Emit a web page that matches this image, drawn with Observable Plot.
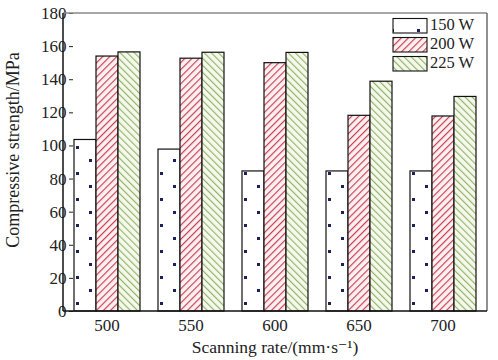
<!DOCTYPE html>
<html><head><meta charset="utf-8">
<script src="https://cdn.jsdelivr.net/npm/d3@7"></script>
<script src="https://cdn.jsdelivr.net/npm/@observablehq/plot@0.6"></script>
<style>
body{margin:0;background:#fff;}
#wrap{position:relative;width:498px;height:360px;}
</style></head><body><div id="wrap"></div>
<script>
const rates = [500, 550, 600, 650, 700];
const powers = ["150 W", "200 W", "225 W"];
const s150 = [103.6, 97.8, 84.6, 84.6, 84.6];
const s200 = [154.0, 152.7, 150.0, 118.2, 117.8];
const s225 = [156.5, 156.3, 156.2, 138.8, 129.6];
const yTicks = [0, 20, 40, 60, 80, 100, 120, 140, 160, 180];
const patternUrls = ["url(#p150)", "url(#p200)", "url(#p225)"];

const data = rates.flatMap((r, i) => [
  {rate: r, power: powers[0], value: s150[i]},
  {rate: r, power: powers[1], value: s200[i]},
  {rate: r, power: powers[2], value: s225[i]}
]);

const FONT = "Liberation Serif, DejaVu Serif, serif";
const W = 498, H = 360, mL = 63, mR = 11, mT = 13, mB = 49;

const chart = Plot.plot({
  width: W, height: H,
  marginLeft: mL, marginRight: mR, marginTop: mT, marginBottom: mB,
  style: {fontFamily: FONT, fontSize: "17px", color: "#222", background: "#fff", overflow: "visible"},
  fx: {domain: rates, paddingInner: 0.2, paddingOuter: 0.11, label: null, tickSize: 0, tickPadding: 7},
  x: {domain: powers, padding: 0, axis: null},
  y: {domain: [0, 180], ticks: yTicks, tickSize: 4, tickPadding: 3, label: null},
  color: {type: "ordinal", domain: powers, range: patternUrls},
  marks: [
    Plot.barY(data, {fx: "rate", x: "power", y: "value", fill: "power", stroke: "#111", strokeWidth: 1.2})
  ]
});

const svg = d3.select(chart);
svg.style("font-family", FONT);
const defs = svg.insert("defs", ":first-child");
// 150 W: sparse dots
const p1 = defs.append("pattern").attr("id", "p150").attr("patternUnits", "userSpaceOnUse")
  .attr("width", 26).attr("height", 26);
p1.append("rect").attr("width", 26).attr("height", 26).attr("fill", "#fff");
p1.append("rect").attr("x", 1).attr("y", 3).attr("width", 3).attr("height", 3).attr("fill", "#1c2060");
p1.append("rect").attr("x", 14).attr("y", 16).attr("width", 3).attr("height", 3).attr("fill", "#1c2060");
// 200 W: red "/" hatch
const p2 = defs.append("pattern").attr("id", "p200").attr("patternUnits", "userSpaceOnUse")
  .attr("width", 5).attr("height", 5).attr("patternTransform", "rotate(45)");
p2.append("rect").attr("width", 5).attr("height", 5).attr("fill", "#fdf0f1");
p2.append("line").attr("x1", 0.6).attr("y1", 0).attr("x2", 0.6).attr("y2", 5)
  .attr("stroke", "#c7354b").attr("stroke-width", 1.1);
// 225 W: green "\" hatch
const p3 = defs.append("pattern").attr("id", "p225").attr("patternUnits", "userSpaceOnUse")
  .attr("width", 5).attr("height", 5).attr("patternTransform", "rotate(-45)");
p3.append("rect").attr("width", 5).attr("height", 5).attr("fill", "#f5f9ed");
p3.append("line").attr("x1", 0.6).attr("y1", 0).attr("x2", 0.6).attr("y2", 5)
  .attr("stroke", "#8fb060").attr("stroke-width", 1.1);

// frame
const fr = svg.append("g");
fr.append("line").attr("x1", mL).attr("x2", W - mR).attr("y1", mT).attr("y2", mT).attr("stroke", "#888").attr("stroke-width", 1.3);
fr.append("line").attr("x1", W - mR).attr("x2", W - mR).attr("y1", mT).attr("y2", H - mB).attr("stroke", "#555").attr("stroke-width", 1.3);
fr.append("line").attr("x1", mL).attr("x2", mL).attr("y1", mT).attr("y2", H - mB).attr("stroke", "#111").attr("stroke-width", 1.5);
fr.append("line").attr("x1", mL).attr("x2", W - mR).attr("y1", H - mB).attr("y2", H - mB).attr("stroke", "#111").attr("stroke-width", 1.5);

// axis titles
svg.append("text").attr("transform", "translate(15,150) rotate(-90)")
  .attr("text-anchor", "middle").attr("dominant-baseline", "middle")
  .style("font-family", FONT).attr("font-size", 18).attr("fill", "#222")
  .text("Compressive strength/MPa");
svg.append("text").attr("x", (mL + W - mR) / 2).attr("y", 353)
  .attr("text-anchor", "middle").style("font-family", FONT).attr("font-size", 17.5).attr("fill", "#222")
  .text("Scanning rate/(mm·s⁻¹)");

// legend
const lg = svg.append("g").style("font-family", FONT).attr("font-size", 16.5).attr("fill", "#222").attr("text-anchor", "start");
powers.forEach((p, i) => {
  const y0 = 18.5 + i * 19;
  lg.append("rect").attr("x", 393).attr("y", y0).attr("width", 34).attr("height", 14.5)
    .attr("fill", patternUrls[i]).attr("stroke", "#111").attr("stroke-width", 1.1);
  lg.append("text").attr("x", 430).attr("y", y0 + 7.5).attr("dominant-baseline", "middle").text(p);
});

document.getElementById("wrap").appendChild(chart);
</script>
</body></html>
